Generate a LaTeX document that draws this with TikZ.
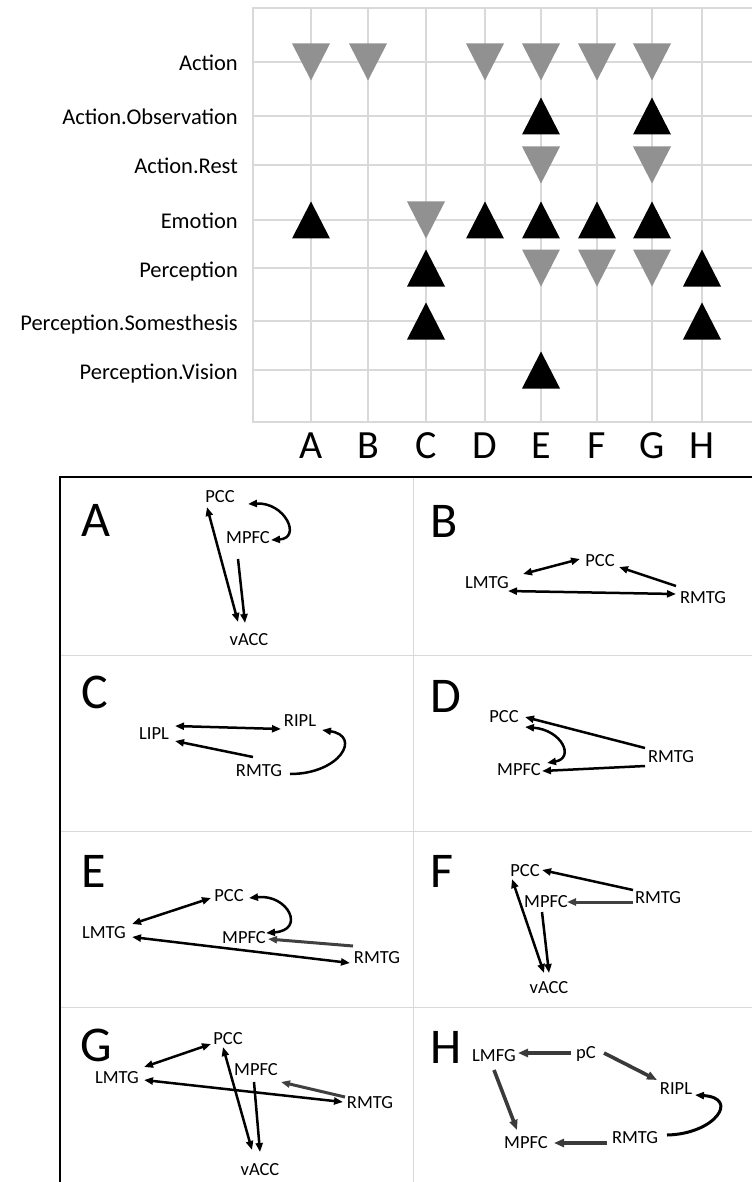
\documentclass[tikz,border=0pt]{standalone}
\usepackage{fontspec}
\setmainfont{Carlito}
\usetikzlibrary{arrows.meta,calc}

\definecolor{gridgray}{HTML}{D9D9D9}
\definecolor{markgray}{HTML}{919191}
\definecolor{arrowgray}{HTML}{404040}
\definecolor{hgray}{HTML}{3A3A3A}

\begin{document}
\begin{tikzpicture}[x=1pt,y=-1pt,
  gridline/.style={draw=gridgray,line width=1.5pt},
  paneline/.style={draw=gridgray,line width=1pt},
  frameline/.style={draw=black,line width=1.6pt},
  rowlabel/.style={anchor=base east,font=\fontsize{22.5}{26}\selectfont,inner sep=0pt},
  collabel/.style={anchor=base,font=\fontsize{40}{44}\selectfont,inner sep=0pt},
  panellabel/.style={anchor=base west,font=\fontsize{50}{54}\selectfont,inner sep=0pt,text depth=0pt},
  region/.style={font=\fontsize{18.5}{20}\selectfont,inner sep=1pt,text height=12pt,text depth=1pt},
  conn/.style={line width=2.5pt,black},
  gconn/.style={line width=3pt,arrowgray},
  hconn/.style={line width=3.6pt,hgray},
  tipboth/.style={{Triangle[length=9pt,width=7pt]}-{Triangle[length=9pt,width=7pt]}},
  tipend/.style={-{Triangle[length=9pt,width=7pt]}},
  tiph/.style={-{Triangle[length=10pt,width=8pt]}},
  upmark/.pic={\fill[black] (-19,18.5) -- (19,18.5) -- (0,-18.5) -- cycle;},
  downmark/.pic={\fill[markgray] (-19,-18.5) -- (19,-18.5) -- (0,18.5) -- cycle;},
]
\fill[white] (0,0) rectangle (752,1182);
\useasboundingbox (0,0) rectangle (752,1182);

% ---------- indicator grid ----------
\foreach \x in {311,368,426,485,541,597,652,702}
  \draw[gridline] (\x,8) -- (\x,422);
\foreach \y in {62,116,165,220,268,321,370}
  \draw[gridline] (253,\y) -- (752,\y);
\draw[gridline] (752,8) -- (253,8) -- (253,422) -- (752,422);

\node[rowlabel] (rAct)  at (238,71)  {Action};
\node[rowlabel] (rObs)  at (238,125) {Action.Observation};
\node[rowlabel] (rRest) at (238,174) {Action.Rest};
\node[rowlabel] (rEmo)  at (238,229) {Emotion};
\node[rowlabel] (rPer)  at (238,277) {Perception};
\node[rowlabel] (rSom)  at (238,330) {Perception.Somesthesis};
\node[rowlabel] (rVis)  at (238,379) {Perception.Vision};

\foreach \x/\l in {311/A,368/B,426/C,485/D,541/E,597/F,652/G,702/H}
  \node[collabel] (col\l) at (\x,458) {\l};

% decreases (grey) and increases (black)
\foreach \x in {311,368,485,541,597,652} \pic at (\x,62) {downmark};
\foreach \x in {541,652} \pic at (\x,116) {upmark};
\foreach \x in {541,652} \pic at (\x,165) {downmark};
\foreach \x in {311,485,541,597,652} \pic at (\x,220) {upmark};
\pic at (426,220) {downmark};
\foreach \x in {426,702} \pic at (\x,268) {upmark};
\foreach \x in {541,597,652} \pic at (\x,268) {downmark};
\foreach \x in {426,702} \pic at (\x,321) {upmark};
\pic at (541,370) {upmark};

% ---------- panel frame ----------
\draw[paneline] (413,477) -- (413,1182);
\foreach \y in {655,831,1007} \draw[paneline] (60,\y) -- (752,\y);
\draw[frameline] (752,477) -- (60,477) -- (60,1182);

\node[panellabel] (pA) at (81,536)  {A};
\node[panellabel] (pB) at (430,537) {B};
\node[panellabel] (pC) at (81,708)  {C};
\node[panellabel] (pD) at (430,712) {D};
\node[panellabel] (pE) at (81,887)  {E};
\node[panellabel] (pF) at (430,887) {F};
\node[panellabel] (pG) at (80,1061) {G};
\node[panellabel] (pH) at (430,1063) {H};

% ---------- A ----------
\node[region] (aPCC)  at (220,497) {PCC};
\node[region] (aMPFC) at (248,538) {MPFC};
\node[region] (aVACC) at (249,640) {vACC};
\draw[conn,tipboth] ($(aPCC)+(-13,10)$) -- ($(aVACC)+(-11,-18)$);
\draw[conn,tipend] ($(aMPFC)+(-10,21)$) -- ($(aVACC)+(-4,-17)$);
\draw[conn,tipboth] ($(aPCC)+(28,7)$) .. controls ($(aPCC)+(65,5)$) and ($(aMPFC)+(54,0)$) .. ($(aMPFC)+(23,2)$);

% ---------- B ----------
\node[region] (bPCC)  at (600,561) {PCC};
\node[region] (bLMTG) at (487,583) {LMTG};
\node[region] (bRMTG) at (703,598) {RMTG};
\draw[conn,tipboth] ($(bLMTG)+(36,-9)$) -- ($(bPCC)+(-20,-2)$);
\draw[conn,tipend] ($(bRMTG)+(-27,-12)$) -- ($(bPCC)+(19,6)$);
\draw[conn,tipboth] ($(bLMTG)+(21,8)$) -- ($(bRMTG)+(-27,-4)$);

% ---------- C ----------
\node[region] (cLIPL) at (154,734) {LIPL};
\node[region] (cRIPL) at (300,721) {RIPL};
\node[region] (cRMTG) at (259,771) {RMTG};
\draw[conn,tipboth] ($(cLIPL)+(21,-8)$) -- ($(cRIPL)+(-19,8)$);
\draw[conn,tipend] ($(cRMTG)+(-6,-14)$) -- ($(cLIPL)+(21,7)$);
\draw[conn,tipend] ($(cRMTG)+(31,3)$) .. controls ($(cRMTG)+(81,3)$) and ($(cRIPL)+(62,15)$) .. ($(cRIPL)+(22,9)$);

% ---------- D ----------
\node[region] (dPCC)  at (504,717) {PCC};
\node[region] (dRMTG) at (671,757) {RMTG};
\node[region] (dMPFC) at (519,770) {MPFC};
\draw[conn,tipend] ($(dRMTG)+(-26,-9)$) -- ($(dPCC)+(21,0)$);
\draw[conn,tipend] ($(dRMTG)+(-26,9)$) -- ($(dMPFC)+(23,1)$);
\draw[conn,tipboth] ($(dPCC)+(21,10)$) .. controls ($(dPCC)+(58,13)$) and ($(dMPFC)+(56,-12)$) .. ($(dMPFC)+(28,-7)$);

% ---------- E ----------
\node[region] (ePCC)  at (229,896) {PCC};
\node[region] (eLMTG) at (104,933) {LMTG};
\node[region] (eMPFC) at (244,938) {MPFC};
\node[region] (eRMTG) at (377,958) {RMTG};
\draw[conn,tipboth] ($(eLMTG)+(28,-9)$) -- ($(ePCC)+(-18,2)$);
\draw[conn,tipboth] ($(ePCC)+(20,2)$) .. controls ($(ePCC)+(59,-2)$) and ($(eMPFC)+(62,-8)$) .. ($(eMPFC)+(22,-5)$);
\draw[gconn,tipend] ($(eRMTG)+(-24,-12)$) -- ($(eMPFC)+(24,1)$);
\draw[conn,tipboth] ($(eLMTG)+(28,4)$) -- ($(eRMTG)+(-27,5)$);

% ---------- F ----------
\node[region] (fPCC)  at (525,871) {PCC};
\node[region] (fRMTG) at (658,898) {RMTG};
\node[region] (fMPFC) at (546,902) {MPFC};
\node[region] (fVACC) at (549,988) {vACC};
\draw[conn,tipend] ($(fRMTG)+(-25,-8)$) -- ($(fPCC)+(17,-1)$);
\draw[gconn,tipend] ($(fRMTG)+(-25,4)$) -- ($(fMPFC)+(21,0)$);
\draw[conn,tipboth] ($(fPCC)+(-13,8)$) -- ($(fVACC)+(-5,-15)$);
\draw[conn,tipend] ($(fMPFC)+(-4,10)$) -- ($(fVACC)+(0,-15)$);

% ---------- G ----------
\node[region] (gPCC)  at (228,1039) {PCC};
\node[region] (gLMTG) at (117,1078) {LMTG};
\node[region] (gMPFC) at (256,1070) {MPFC};
\node[region] (gRMTG) at (370,1103) {RMTG};
\node[region] (gVACC) at (260,1170) {vACC};
\draw[conn,tipboth] ($(gLMTG)+(27,-11)$) -- ($(gPCC)+(-17,5)$);
\draw[conn,tipboth] ($(gPCC)+(-5,8)$) -- ($(gVACC)+(-8,-20)$);
\draw[conn,tipend] ($(gMPFC)+(-2,12)$) -- ($(gVACC)+(0,-18)$);
\draw[gconn,tipend] ($(gRMTG)+(-25,-6)$) -- ($(gMPFC)+(25,12)$);
\draw[conn,tipboth] ($(gLMTG)+(27,2)$) -- ($(gRMTG)+(-27,-1)$);

% ---------- H ----------
\node[region] (hLMFG) at (494,1056) {LMFG};
\node[region] (hPC)   at (586,1053) {pC};
\node[region] (hRIPL) at (676,1089) {RIPL};
\node[region] (hMPFC) at (526,1143) {MPFC};
\node[region] (hRMTG) at (635,1138) {RMTG};
\draw[hconn,tiph] ($(hPC)+(-15,0)$) -- ($(hLMFG)+(24,-3)$);
\draw[hconn,tiph] ($(hPC)+(18,0)$) -- ($(hRIPL)+(-19,-9)$);
\draw[hconn,tiph] ($(hLMFG)+(0,14)$) -- ($(hMPFC)+(-9,-13)$);
\draw[hconn,tiph] ($(hRMTG)+(-28,5)$) -- ($(hMPFC)+(28,0)$);
\draw[conn,line width=3pt,tipend] ($(hRMTG)+(32,-3)$) .. controls ($(hRMTG)+(80,-4)$) and ($(hRIPL)+(64,9)$) .. ($(hRIPL)+(19,6)$);
\end{tikzpicture}
\end{document}
